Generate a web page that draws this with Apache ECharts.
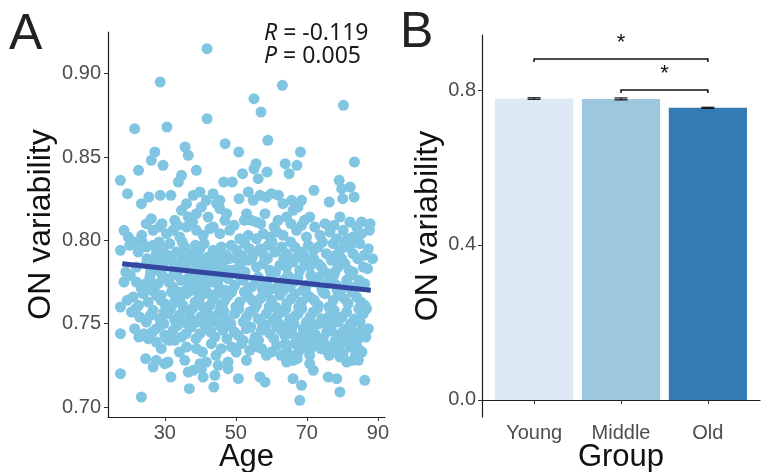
<!DOCTYPE html>
<html>
<head>
<meta charset="utf-8">
<script src="https://cdn.jsdelivr.net/npm/echarts@6/dist/echarts.min.js"></script>
<style>
  html, body { margin: 0; padding: 0; background: #fff; }
  #chart { width: 763px; height: 472px; }
</style>
</head>
<body>
<div id="chart"></div>
<script>
// panel A: [age, ON variability]
const scatterPoints = [
  // upper outliers
  [41.9, 0.915], [28.7, 0.895], [63.1, 0.893], [80.3, 0.881], [55.1, 0.885], [57.1, 0.877], [41.9, 0.873],
  [21.5, 0.867], [30.6, 0.868], [59.0, 0.860], [47.0, 0.858], [35.7, 0.856], [50.8, 0.853], [68.2, 0.853],
  [27.2, 0.853], [36.6, 0.851], [26.2, 0.848], [29.5, 0.845], [63.9, 0.846], [67.2, 0.845], [83.4, 0.847],
  [55.7, 0.846], [55.1, 0.843], [22.6, 0.842], [38.9, 0.842], [58.8, 0.841], [65.0, 0.840], [51.9, 0.840],
  [34.7, 0.839], [17.5, 0.836], [33.8, 0.835], [79.1, 0.836], [46.6, 0.835], [49.0, 0.835], [56.3, 0.837],
  [79.8, 0.831], [82.2, 0.832],
  // 0.82 - 0.83
  [19.5, 0.828], [23.4, 0.822], [25.5, 0.826], [28.7, 0.827], [31.7, 0.827], [36.1, 0.822], [38.0, 0.827],
  [39.9, 0.829], [41.7, 0.824], [43.6, 0.828], [44.6, 0.822], [45.5, 0.824], [50.9, 0.825], [53.5, 0.829],
  [54.9, 0.824], [56.8, 0.827], [58.6, 0.826], [60.0, 0.828], [62.0, 0.827], [63.3, 0.822], [65.7, 0.824],
  [68.5, 0.824], [72.0, 0.830], [76.3, 0.823], [80.1, 0.825], [83.3, 0.826],
  // 0.80 - 0.82
  [24.8, 0.810], [26.2, 0.813], [32.8, 0.812], [34.7, 0.818], [36.6, 0.814], [38.9, 0.816], [40.3, 0.820],
  [42.2, 0.814], [45.5, 0.819], [47.4, 0.816], [53.0, 0.816], [54.4, 0.812], [55.8, 0.811], [58.2, 0.816],
  [61.9, 0.812], [64.3, 0.814], [66.1, 0.818], [67.5, 0.820], [70.8, 0.814], [75.1, 0.810], [79.3, 0.814],
  [82.1, 0.811], [85.4, 0.811], [87.8, 0.810],
  [18.5, 0.806], [19.7, 0.802], [21.5, 0.799], [26.7, 0.806], [28.6, 0.808], [30.5, 0.804], [32.3, 0.806],
  [34.2, 0.802], [36.1, 0.808], [38.9, 0.806], [40.8, 0.803], [43.6, 0.808], [45.5, 0.804], [48.3, 0.806],
  [51.1, 0.801], [53.5, 0.803], [55.8, 0.801], [57.7, 0.804], [59.6, 0.802], [61.5, 0.805], [63.3, 0.803],
  [67.1, 0.806], [68.5, 0.809], [69.9, 0.802], [73.7, 0.803], [76.5, 0.805], [78.4, 0.801], [80.2, 0.806],
  [83.0, 0.802], [85.4, 0.804], [87.6, 0.806],
  [23.5, 0.803], [29.2, 0.810], [33.6, 0.809], [37.8, 0.811], [42.7, 0.807], [46.9, 0.812], [49.5, 0.809],
  [52.4, 0.812], [57.0, 0.810], [60.8, 0.808], [65.5, 0.810], [69.3, 0.812], [72.2, 0.808], [77.6, 0.809],
  [81.5, 0.801], [84.0, 0.808],
  // 0.79 - 0.80
  [17.5, 0.794], [22.5, 0.793], [24.8, 0.796], [26.7, 0.797], [27.6, 0.792], [29.5, 0.795], [31.4, 0.798],
  [33.3, 0.793], [35.6, 0.796], [37.5, 0.792], [39.9, 0.795], [42.2, 0.790], [43.6, 0.794], [45.9, 0.796],
  [47.4, 0.791], [50.2, 0.794], [52.5, 0.798], [54.9, 0.792], [56.8, 0.795], [59.1, 0.797], [61.0, 0.793],
  [62.9, 0.796], [64.3, 0.792], [66.6, 0.796], [68.5, 0.793], [70.4, 0.797], [73.2, 0.796], [75.5, 0.792],
  [77.4, 0.798], [79.3, 0.794], [81.2, 0.796], [83.0, 0.792], [84.9, 0.798], [87.3, 0.795], [88.5, 0.789],
  [20.1, 0.797], [23.6, 0.799], [28.4, 0.799], [30.8, 0.791], [34.9, 0.799], [38.6, 0.797], [41.1, 0.798],
  [44.9, 0.791], [48.7, 0.797], [51.6, 0.791], [53.8, 0.795], [57.9, 0.791], [60.2, 0.799], [63.7, 0.790],
  [65.4, 0.799], [69.2, 0.791], [71.9, 0.794], [74.4, 0.799], [78.1, 0.791], [80.5, 0.799], [82.3, 0.797],
  [86.1, 0.791],
  // 0.78 - 0.79
  [22.0, 0.784], [24.8, 0.786], [27.2, 0.787], [29.5, 0.784], [31.9, 0.788], [33.8, 0.782], [36.1, 0.786],
  [38.0, 0.788], [40.3, 0.782], [42.2, 0.786], [44.6, 0.784], [46.4, 0.787], [49.2, 0.782], [51.1, 0.785],
  [53.5, 0.788], [55.8, 0.784], [57.7, 0.786], [59.6, 0.782], [62.4, 0.785], [64.3, 0.784], [66.1, 0.787],
  [68.0, 0.782], [70.8, 0.784], [73.2, 0.786], [75.1, 0.781], [76.9, 0.788], [78.8, 0.784], [80.7, 0.786],
  [83.0, 0.781], [85.9, 0.784],
  [19.0, 0.781], [26.0, 0.781], [28.3, 0.790], [32.9, 0.785], [35.1, 0.790], [39.1, 0.785], [41.0, 0.789],
  [43.2, 0.781], [47.9, 0.782], [50.3, 0.789], [52.6, 0.781], [54.7, 0.790], [58.9, 0.789], [61.2, 0.781],
  [63.5, 0.789], [67.2, 0.790], [69.4, 0.786], [71.9, 0.789], [74.1, 0.784], [77.9, 0.781], [79.8, 0.789],
  [81.9, 0.782], [84.3, 0.789], [87.1, 0.783],
  [25.0, 0.789], [27.9, 0.782], [30.2, 0.788], [32.6, 0.780], [34.4, 0.787], [37.2, 0.781], [39.0, 0.790],
  [41.6, 0.784], [44.0, 0.788], [45.7, 0.781], [48.1, 0.789],
  // 0.77 - 0.78
  [18.5, 0.775], [22.0, 0.775], [23.4, 0.771], [25.8, 0.778], [28.1, 0.774], [30.5, 0.777], [32.3, 0.772],
  [34.7, 0.776], [37.0, 0.773], [39.4, 0.778], [41.3, 0.772], [43.6, 0.775], [45.5, 0.771], [47.8, 0.777],
  [49.7, 0.773], [52.1, 0.776], [54.4, 0.772], [56.3, 0.778], [58.6, 0.774], [61.0, 0.771], [63.3, 0.776],
  [65.2, 0.772], [67.5, 0.778], [69.9, 0.773], [72.3, 0.775], [74.2, 0.771], [76.5, 0.777], [78.4, 0.773],
  [81.2, 0.776], [83.5, 0.772], [86.3, 0.774],
  [20.3, 0.779], [24.6, 0.774], [27.0, 0.770], [29.3, 0.779], [33.4, 0.779], [35.9, 0.770], [38.2, 0.775],
  [40.7, 0.776], [42.4, 0.779], [44.8, 0.774], [46.6, 0.779], [48.9, 0.770], [51.0, 0.779], [53.2, 0.770],
  [55.5, 0.775], [57.4, 0.771], [59.9, 0.778], [62.2, 0.773], [64.6, 0.779], [66.3, 0.775], [68.8, 0.770],
  [71.1, 0.779], [73.4, 0.778], [75.8, 0.774], [77.6, 0.779], [79.9, 0.771], [82.4, 0.779], [84.8, 0.776],
  [26.4, 0.772], [29.0, 0.767], [31.1, 0.775], [33.9, 0.769], [36.4, 0.777], [38.7, 0.770], [40.9, 0.773],
  [43.0, 0.767], [45.2, 0.777], [47.1, 0.770],
  // 0.76 - 0.77
  [17.5, 0.760], [21.1, 0.766], [23.9, 0.768], [25.3, 0.763], [27.6, 0.767], [30.0, 0.762], [31.9, 0.769],
  [34.2, 0.764], [36.1, 0.768], [38.5, 0.763], [40.3, 0.767], [42.7, 0.761], [44.6, 0.768], [46.9, 0.764],
  [48.8, 0.769], [51.1, 0.763], [53.5, 0.766], [55.8, 0.761], [57.7, 0.768], [60.0, 0.764], [62.4, 0.767],
  [64.3, 0.762], [66.6, 0.768], [68.5, 0.763], [70.8, 0.766], [73.2, 0.761], [75.1, 0.768], [77.4, 0.764],
  [79.3, 0.767], [81.6, 0.762], [84.0, 0.766], [86.3, 0.761],
  [19.4, 0.764], [22.6, 0.761], [26.3, 0.770], [28.9, 0.764], [33.0, 0.765], [35.1, 0.761], [37.4, 0.770],
  [39.6, 0.765], [41.8, 0.769], [43.7, 0.765], [45.8, 0.761], [47.9, 0.767], [50.0, 0.760], [52.4, 0.769],
  [54.6, 0.764], [56.9, 0.765], [59.0, 0.769], [61.2, 0.760], [63.4, 0.770], [65.6, 0.765], [67.7, 0.760],
  [69.7, 0.769], [72.1, 0.764], [74.5, 0.769], [76.2, 0.760], [78.5, 0.770], [80.6, 0.765], [82.8, 0.769],
  [85.2, 0.763],
  // 0.75 - 0.76
  [20.6, 0.757], [22.9, 0.754], [24.8, 0.751], [26.7, 0.758], [28.6, 0.753], [30.9, 0.756], [32.8, 0.752],
  [35.2, 0.758], [37.0, 0.754], [38.9, 0.751], [41.3, 0.757], [43.6, 0.753], [45.5, 0.758], [47.4, 0.752],
  [49.7, 0.756], [52.1, 0.751], [53.9, 0.757], [56.3, 0.753], [58.6, 0.756], [60.5, 0.752], [62.9, 0.757],
  [65.2, 0.753], [67.5, 0.756], [69.9, 0.751], [71.8, 0.757], [74.2, 0.753], [76.5, 0.755], [78.8, 0.751],
  [81.2, 0.757], [83.5, 0.753], [85.9, 0.756], [86.8, 0.759],
  [21.8, 0.759], [25.9, 0.755], [29.7, 0.750], [31.6, 0.759], [34.0, 0.755], [36.3, 0.750], [40.1, 0.754],
  [42.5, 0.750], [44.7, 0.755], [46.2, 0.760], [48.6, 0.750], [50.8, 0.759], [53.0, 0.754], [55.2, 0.759],
  [57.5, 0.750], [59.4, 0.760], [61.7, 0.755], [64.1, 0.759], [66.4, 0.750], [68.6, 0.759], [70.9, 0.754],
  [73.0, 0.759], [75.3, 0.750], [77.7, 0.758], [79.9, 0.754], [82.3, 0.750], [84.6, 0.759],
  [29.8, 0.757], [32.1, 0.761], [34.5, 0.751], [37.8, 0.759], [40.0, 0.761], [42.1, 0.756], [44.3, 0.752],
  [46.7, 0.757], [62.3, 0.750], [66.9, 0.755], [73.4, 0.750], [77.9, 0.752], [85.0, 0.751],
  // 0.74 - 0.75
  [17.5, 0.744], [21.5, 0.747], [24.1, 0.744], [25.3, 0.741], [27.6, 0.747], [30.0, 0.743], [32.3, 0.746],
  [34.7, 0.742], [37.5, 0.748], [39.9, 0.744], [41.7, 0.747], [44.1, 0.742], [46.4, 0.746], [48.3, 0.749],
  [50.7, 0.743], [53.0, 0.747], [55.4, 0.742], [57.2, 0.746], [59.6, 0.744], [61.5, 0.748], [63.8, 0.743],
  [65.7, 0.746], [68.0, 0.742], [70.4, 0.747], [72.3, 0.744], [74.6, 0.741], [76.9, 0.746], [78.8, 0.743],
  [81.2, 0.747], [83.0, 0.742], [84.9, 0.745], [87.3, 0.747],
  [22.7, 0.742], [26.5, 0.745], [28.8, 0.749], [31.2, 0.740], [33.6, 0.749], [36.0, 0.744], [38.8, 0.741],
  [40.9, 0.750], [42.9, 0.745], [45.3, 0.749], [47.5, 0.741], [49.6, 0.745], [52.0, 0.740], [54.2, 0.748],
  [56.4, 0.740], [58.5, 0.749], [60.7, 0.741], [62.8, 0.746], [64.9, 0.749], [67.0, 0.740], [69.3, 0.744],
  [71.5, 0.749], [73.6, 0.741], [75.9, 0.749], [78.0, 0.740], [80.1, 0.745], [82.5, 0.749], [84.2, 0.740],
  [86.6, 0.742],
  [64.7, 0.744], [69.0, 0.747], [71.3, 0.741], [75.6, 0.745], [80.4, 0.740], [82.7, 0.744],
  // 0.73 - 0.74
  [27.6, 0.739], [30.5, 0.741], [32.8, 0.740], [36.1, 0.736], [38.9, 0.735], [43.1, 0.738], [45.9, 0.735],
  [48.8, 0.736], [51.6, 0.738], [53.9, 0.734], [56.3, 0.736], [58.6, 0.731], [61.5, 0.737], [64.3, 0.734],
  [66.6, 0.738], [68.5, 0.735], [70.8, 0.731], [72.7, 0.739], [75.5, 0.734], [77.4, 0.737], [80.2, 0.732],
  [82.1, 0.736], [84.5, 0.735],
  [29.0, 0.735], [34.1, 0.733], [40.6, 0.733], [44.4, 0.731], [50.1, 0.733], [55.0, 0.739], [57.3, 0.735],
  [60.0, 0.733], [62.7, 0.731], [65.1, 0.731], [67.6, 0.733], [69.8, 0.738], [73.9, 0.735], [76.3, 0.731],
  [78.5, 0.734], [81.4, 0.739], [83.7, 0.731],
  [63.9, 0.738], [71.0, 0.735], [74.8, 0.738], [79.0, 0.736], [85.5, 0.733],
  // 0.72 - 0.73
  [24.6, 0.729], [26.7, 0.724], [27.6, 0.728], [30.0, 0.726], [30.9, 0.727], [35.6, 0.728], [38.0, 0.722],
  [39.9, 0.726], [41.7, 0.727], [40.3, 0.723], [45.0, 0.725], [47.8, 0.727], [47.8, 0.723], [53.0, 0.728],
  [64.3, 0.727], [66.1, 0.728], [70.8, 0.726], [71.8, 0.722], [81.2, 0.727], [84.5, 0.728], [79.3, 0.730],
  [67.3, 0.729], [82.9, 0.728],
  // lower tail
  [17.5, 0.720], [31.7, 0.718], [36.6, 0.721], [40.8, 0.718], [44.1, 0.719], [50.7, 0.717], [56.8, 0.718],
  [58.2, 0.715], [66.1, 0.717], [68.5, 0.713], [76.0, 0.718], [78.4, 0.717], [86.3, 0.716],
  [23.4, 0.706], [36.9, 0.711], [43.8, 0.712], [68.0, 0.704], [79.3, 0.709]
]

// fitted line end points (age, value)
const fitAges = [18, 88]
const fitValues = [0.786, 0.770]

const ageTicks = [30, 50, 70, 90]
const variabilityTicksA = [0.70, 0.75, 0.80, 0.85, 0.90]

// panel B
const groups = ['Young', 'Middle', 'Old']
const groupMeans = [0.778, 0.777, 0.754]
const groupErrors = [0.002, 0.0025, 0.0015]
const groupColors = ['#dde9f5', '#9ec6dd', '#347bb3']
const variabilityTicksB = [0.0, 0.4, 0.8]
// [from group, to group, height, drop]
const brackets = [[1, 3, 0.880, 0.872], [2, 3, 0.800, 0.792]]
const starMarks = [[2, 0.921], [2.5, 0.842]]

const axisColor = '#1e1e1e'
const labelColor = '#4d4d4d'
const font = 'Liberation Sans, Arial, sans-serif'

const chart = echarts.init(document.getElementById('chart'), null, { renderer: 'canvas' })

const barData = groupMeans.map((m, i) => [i + 1, m, i])
const errData = groupMeans.map((m, i) => [i + 1, m, groupErrors[i]])

chart.setOption({
  backgroundColor: '#fff',
  animation: false,
  textStyle: { fontFamily: font },
  grid: [
    { left: 108, top: 32, width: 277, height: 385, outerBoundsMode: 'none', containLabel: false },
    { left: 482, top: 35, width: 278, height: 382, outerBoundsMode: 'none', containLabel: false }
  ],
  xAxis: [{
    gridIndex: 0,
    type: 'value',
    min: 14,
    max: 92,
    name: 'Age',
    nameLocation: 'middle',
    nameGap: 25,
    nameMoveOverlap: false,
    nameTextStyle: { fontSize: 31, color: '#111', fontFamily: font, verticalAlign: 'top' },
    axisLine: { lineStyle: { color: axisColor, width: 1.2 } },
    axisTick: { customValues: ageTicks, length: 4, lineStyle: { color: '#333' } },
    axisLabel: { customValues: ageTicks, fontSize: 20, color: labelColor, margin: 6 },
    splitLine: { show: false }
  }, {
    gridIndex: 1,
    type: 'value',
    min: 0.4,
    max: 3.6,
    name: 'Group',
    nameLocation: 'middle',
    nameGap: 25,
    nameMoveOverlap: false,
    nameTextStyle: { fontSize: 31, color: '#111', fontFamily: font, verticalAlign: 'top' },
    axisLine: { lineStyle: { color: axisColor, width: 1.2 } },
    axisTick: { customValues: [1, 2, 3], length: 4, lineStyle: { color: '#333' } },
    axisLabel: {
      customValues: [1, 2, 3],
      fontSize: 20,
      color: labelColor,
      margin: 6,
      formatter: v => groups[Math.round(v) - 1]
    },
    splitLine: { show: false }
  }],
  yAxis: [{
    gridIndex: 0,
    type: 'value',
    min: 0.694,
    max: 0.925,
    name: 'ON variability',
    nameLocation: 'middle',
    nameGap: 51,
    nameMoveOverlap: false,
    nameTextStyle: { fontSize: 32, color: '#111', fontFamily: font },
    axisLine: { show: true, lineStyle: { color: axisColor, width: 1.2 } },
    axisTick: { show: true, customValues: variabilityTicksA, length: 4, lineStyle: { color: '#333' } },
    axisLabel: {
      customValues: variabilityTicksA,
      fontSize: 20,
      color: labelColor,
      margin: 7,
      formatter: v => v.toFixed(2)
    },
    splitLine: { show: false }
  }, {
    gridIndex: 1,
    type: 'value',
    min: -0.044,
    max: 0.942,
    name: 'ON variability',
    nameLocation: 'middle',
    nameGap: 38,
    nameMoveOverlap: false,
    nameTextStyle: { fontSize: 32, color: '#111', fontFamily: font },
    axisLine: { show: true, lineStyle: { color: axisColor, width: 1.2 } },
    axisTick: { show: true, customValues: variabilityTicksB, length: 4, lineStyle: { color: '#333' } },
    axisLabel: {
      customValues: variabilityTicksB,
      fontSize: 20,
      color: labelColor,
      margin: 6,
      formatter: v => v.toFixed(1)
    },
    splitLine: { show: false }
  }],
  graphic: [
    { type: 'text', left: 9, top: 10, style: { text: 'A', fontSize: 50, fill: '#222', fontFamily: font } },
    { type: 'text', left: 400, top: 8, style: { text: 'B', fontSize: 50, fill: '#222', fontFamily: font } },
    {
      type: 'text', left: 264, top: 22,
      style: {
        text: '{i|R} = -0.119\n{i|P} = 0.005',
        fontSize: 23,
        lineHeight: 23,
        fill: '#1a1a1a',
        fontFamily: 'Noto Sans, sans-serif',
        rich: {
          i: { fontStyle: 'italic', fontSize: 23, fontFamily: 'Noto Sans, sans-serif', fill: '#1a1a1a' }
        }
      }
    }
  ],
  series: [
    {
      type: 'scatter',
      xAxisIndex: 0,
      yAxisIndex: 0,
      symbolSize: 11,
      itemStyle: { color: '#80c5e1', opacity: 1 },
      data: scatterPoints,
      z: 2
    },
    {
      type: 'line',
      xAxisIndex: 0,
      yAxisIndex: 0,
      data: fitAges.map((a, i) => [a, fitValues[i]]),
      symbol: 'none',
      lineStyle: { color: '#3346a0', width: 5 },
      z: 3
    },
    {
      type: 'custom',
      xAxisIndex: 1,
      yAxisIndex: 1,
      data: barData,
      renderItem: (params, api) => {
        const x = api.value(0)
        const top = api.coord([x - 0.45, api.value(1)])
        const bottom = api.coord([x + 0.45, 0])
        return {
          type: 'rect',
          shape: { x: top[0], y: top[1], width: bottom[0] - top[0], height: bottom[1] - top[1] },
          style: { fill: groupColors[api.value(2)] }
        }
      },
      z: 2
    },
    {
      type: 'custom',
      xAxisIndex: 1,
      yAxisIndex: 1,
      data: errData,
      renderItem: (params, api) => {
        const x = api.value(0)
        const m = api.value(1)
        const e = api.value(2)
        const hi = api.coord([x, m + e])
        const lo = api.coord([x, m - e])
        const half = 6.5
        const st = { stroke: '#111', lineWidth: 1.2 }
        return {
          type: 'group',
          children: [
            { type: 'line', shape: { x1: hi[0], y1: hi[1], x2: lo[0], y2: lo[1] }, style: st },
            { type: 'line', shape: { x1: hi[0] - half, y1: hi[1], x2: hi[0] + half, y2: hi[1] }, style: st },
            { type: 'line', shape: { x1: lo[0] - half, y1: lo[1], x2: lo[0] + half, y2: lo[1] }, style: st }
          ]
        }
      },
      z: 3
    },
    {
      type: 'custom',
      xAxisIndex: 1,
      yAxisIndex: 1,
      data: brackets,
      renderItem: (params, api) => {
        const a = api.coord([api.value(0), api.value(3)])
        const b = api.coord([api.value(0), api.value(2)])
        const c = api.coord([api.value(1), api.value(2)])
        const d = api.coord([api.value(1), api.value(3)])
        return {
          type: 'polyline',
          shape: { points: [a, b, c, d] },
          style: { stroke: '#111', lineWidth: 1.5, fill: null }
        }
      },
      z: 3
    },
    {
      type: 'custom',
      xAxisIndex: 1,
      yAxisIndex: 1,
      data: starMarks,
      renderItem: (params, api) => {
        const p = api.coord([api.value(0), api.value(1)])
        return {
          type: 'text',
          x: p[0],
          y: p[1],
          style: { text: '*', fontSize: 22, fill: '#111', align: 'center', verticalAlign: 'middle', fontFamily: font }
        }
      },
      z: 3
    }
  ]
})
</script>
</body>
</html>
